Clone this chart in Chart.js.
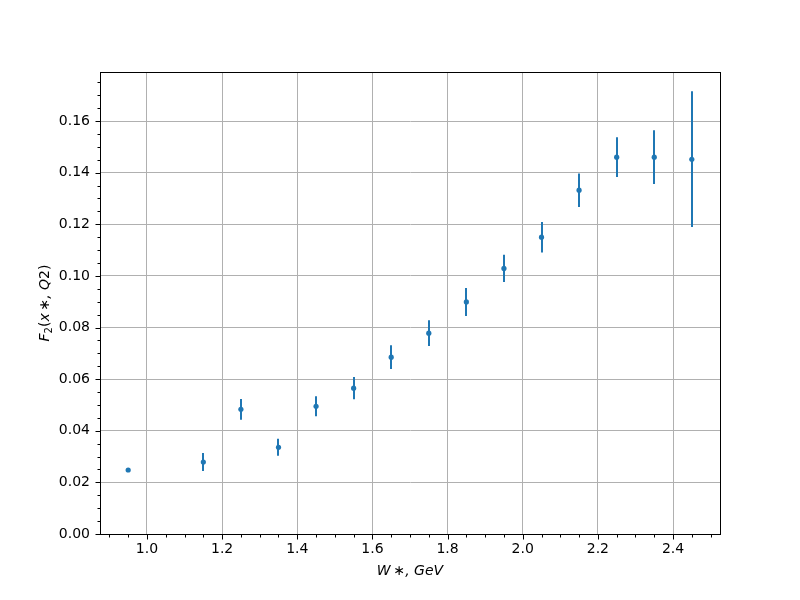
<!DOCTYPE html>
<html><head><meta charset="utf-8">
<script src="https://cdn.jsdelivr.net/npm/chart.js@4"></script>
<style>body{margin:0;background:#fff}canvas{display:block}</style>
</head><body>
<canvas id="c" width="800" height="600"></canvas>
<script>
const wValues   = [0.95, 1.15, 1.25, 1.35, 1.45, 1.55, 1.65, 1.75, 1.85, 1.95, 2.05, 2.15, 2.25, 2.35, 2.45];
const f2Values  = [0.0248, 0.0279, 0.0483, 0.0336, 0.0495, 0.0565, 0.0685, 0.0778, 0.0899, 0.1029, 0.1150, 0.1332, 0.1460, 0.1460, 0.1452];
const f2Errors  = [0.0008, 0.0035, 0.0040, 0.0033, 0.0039, 0.0043, 0.0046, 0.0050, 0.0054, 0.0053, 0.0059, 0.0065, 0.0077, 0.0104, 0.0263];
const xTickLabels = [1.0, 1.2, 1.4, 1.6, 1.8, 2.0, 2.2, 2.4];
const yTickLabels = [0.00, 0.02, 0.04, 0.06, 0.08, 0.10, 0.12, 0.14, 0.16];

const X_MIN = 0.875, X_MAX = 2.525, Y_MIN = 0, Y_MAX = 0.179;
const BLUE = '#1f77b4';
const FONT = "'DejaVu Sans', sans-serif";

function minorList(start, stop, step, lo, hi) {
  const out = [];
  for (let k = 0; ; k++) {
    const v = +(start + k * step).toFixed(6);
    if (v > stop) break;
    if (v >= lo && v <= hi) out.push(v);
  }
  return out;
}
const xMinor = minorList(0.85, 2.55, 0.05, X_MIN, X_MAX);
const yMinor = minorList(0, 0.18, 0.005, Y_MIN, Y_MAX);

const decor = {
  id: 'decor',
  beforeDatasetsDraw(chart) {
    const ctx = chart.ctx, xs = chart.scales.x, ys = chart.scales.y;
    ctx.save();
    ctx.strokeStyle = BLUE;
    ctx.lineWidth = 2;
    for (let i = 0; i < wValues.length; i++) {
      const px = Math.round(xs.getPixelForValue(wValues[i]));
      const y1 = ys.getPixelForValue(f2Values[i] - f2Errors[i]);
      const y2 = ys.getPixelForValue(f2Values[i] + f2Errors[i]);
      ctx.beginPath();
      ctx.moveTo(px, y1);
      ctx.lineTo(px, y2);
      ctx.stroke();
    }
    ctx.restore();
  },
  afterDraw(chart) {
    const ctx = chart.ctx, a = chart.chartArea, xs = chart.scales.x, ys = chart.scales.y;
    ctx.save();
    ctx.strokeStyle = '#000';
    ctx.lineWidth = 1;
    ctx.strokeRect(Math.round(a.left) + 0.5, Math.round(a.top) + 0.5, Math.round(a.right - a.left), Math.round(a.bottom - a.top));
    // ticks
    ctx.beginPath();
    const b = Math.round(a.bottom) + 0.5, l = Math.round(a.left) + 0.5;
    xTickLabels.forEach(v => { const p = Math.round(xs.getPixelForValue(v)) + 0.5; ctx.moveTo(p, b); ctx.lineTo(p, b + 5); });
    xMinor.forEach(v => { const p = Math.round(xs.getPixelForValue(v)) + 0.5; ctx.moveTo(p, b); ctx.lineTo(p, b + 3); });
    yTickLabels.forEach(v => { const p = Math.round(ys.getPixelForValue(v)) + 0.5; ctx.moveTo(l, p); ctx.lineTo(l - 5, p); });
    yMinor.forEach(v => { const p = Math.round(ys.getPixelForValue(v)) + 0.5; ctx.moveTo(l, p); ctx.lineTo(l - 3, p); });
    ctx.stroke();
    // axis labels
    ctx.fillStyle = '#000';
    ctx.textBaseline = 'alphabetic';
    ctx.font = "italic 14px " + FONT;
    ctx.textAlign = 'center';
    ctx.fillText('W\u2009\u2217, GeV', (a.left + a.right) / 2, 575);
    // y label with subscript
    ctx.translate(49, (a.top + a.bottom) / 2);
    ctx.rotate(-Math.PI / 2);
    const parts = [
      { t: 'F', f: "italic 14px " + FONT, dy: 0 },
      { t: '2', f: "10px " + FONT, dy: 3 },
      { t: '(', f: "14px " + FONT, dy: 0 },
      { t: 'x\u2009\u2217, Q', f: "italic 14px " + FONT, dy: 0 },
      { t: '2', f: "14px " + FONT, dy: 0 },
      { t: ')', f: "14px " + FONT, dy: 0 }
    ];
    let total = 0;
    parts.forEach(p => { ctx.font = p.f; p.w = ctx.measureText(p.t).width; total += p.w; });
    let x0 = -total / 2;
    ctx.textAlign = 'left';
    parts.forEach(p => { ctx.font = p.f; ctx.fillText(p.t, x0, p.dy); x0 += p.w; });
    ctx.restore();
  }
};

new Chart(document.getElementById('c'), {
  type: 'scatter',
  data: {
    datasets: [{
      data: wValues.map((w, i) => ({ x: w, y: f2Values[i] })),
      backgroundColor: BLUE,
      borderColor: BLUE,
      borderWidth: 0,
      pointRadius: 2.6,
      pointHoverRadius: 2.6
    }]
  },
  options: {
    responsive: false,
    animation: false,
    devicePixelRatio: 1,
    layout: { padding: { left: 0, right: 80, top: 72, bottom: 0 } },
    plugins: { legend: { display: false }, tooltip: { enabled: false } },
    scales: {
      x: {
        type: 'linear', min: X_MIN, max: X_MAX,
        afterBuildTicks: s => { s.ticks = xTickLabels.map(v => ({ value: v })); },
        afterFit: s => { s.height = 66; },
        ticks: { callback: v => Number(v).toFixed(1), font: { family: FONT, size: 14 }, color: '#000', padding: 7, maxRotation: 0, autoSkip: false },
        grid: { color: '#b0b0b0', lineWidth: 1, drawTicks: false },
        border: { color: '#000', width: 1 }
      },
      y: {
        type: 'linear', min: Y_MIN, max: Y_MAX,
        afterBuildTicks: s => { s.ticks = yTickLabels.map(v => ({ value: v })); },
        afterFit: s => { s.width = 100; },
        ticks: { callback: v => Number(v).toFixed(2), font: { family: FONT, size: 14 }, color: '#000', padding: 10, autoSkip: false },
        grid: { color: '#b0b0b0', lineWidth: 1, drawTicks: false },
        border: { color: '#000', width: 1 }
      }
    }
  },
  plugins: [decor]
});
</script>
</body></html>
